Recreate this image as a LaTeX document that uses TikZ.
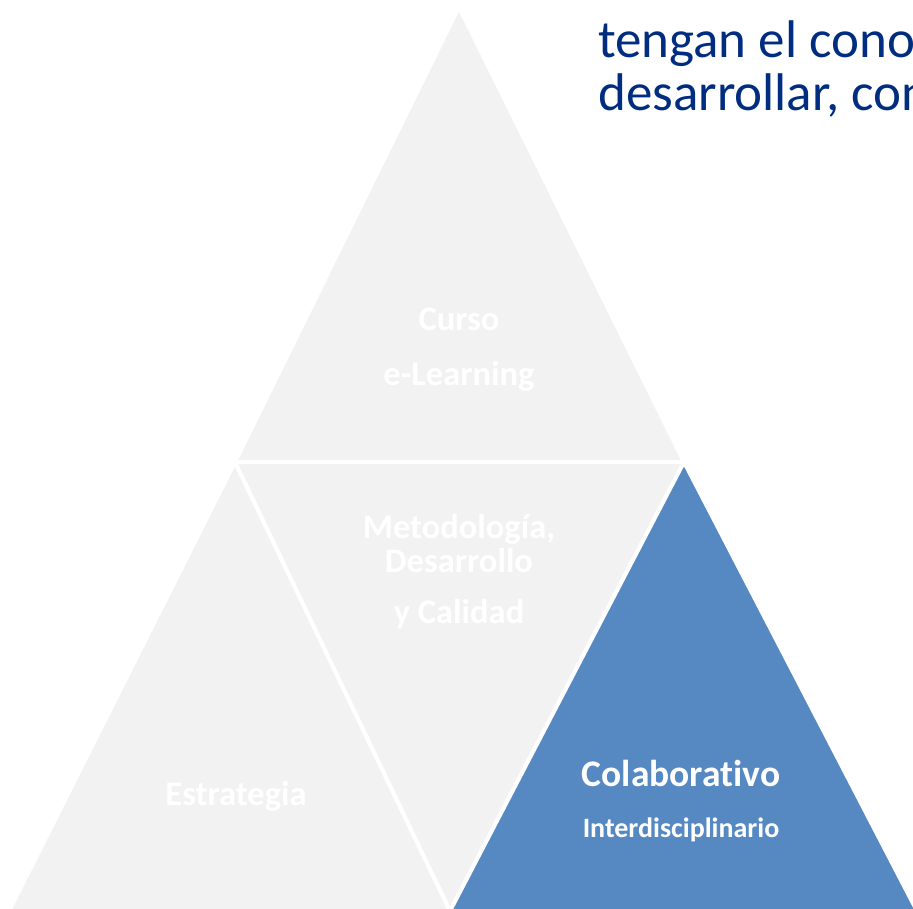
\documentclass[tikz,border=0pt]{standalone}
\usepackage{fontspec}
\setmainfont{Carlito}[Ligatures={NoCommon}]
\usepackage{tikz}

\definecolor{piecegray}{RGB}{242,242,242}
\definecolor{pieceblue}{RGB}{86,137,193}
\definecolor{titleblue}{RGB}{0,45,128}

\begin{document}
\begin{tikzpicture}[x=1pt, y=-1pt,
	piece/.style={draw=white, line width=4pt, line join=miter, fill=piecegray},
	hot piece/.style={piece, fill=pieceblue},
	tag/.style={anchor=base, inner sep=0pt, text=white, font=\fontsize{34.5}{38}\selectfont\bfseries},
	big tag/.style={tag, font=\fontsize{37.5}{42}\selectfont\bfseries},
	small tag/.style={tag, font=\fontsize{28}{32}\selectfont\bfseries},
	title line/.style={anchor=base west, inner sep=0pt, text=titleblue, font=\fontsize{53}{58}\selectfont}]
	
	\useasboundingbox (0,0) rectangle (913,908);
	
	% corners of the pyramid
	\coordinate (apex) at (459,7);
	\coordinate (lb) at (9,911);
	\coordinate (rb) at (917,911);
	\coordinate (lm) at (235,462);
	\coordinate (rm) at (684,462);
	\coordinate (bm) at (450,911);
	
	\path[piece] (apex) -- (rm) -- (lm) -- cycle;
	\path[piece] (lm) -- (bm) -- (lb) -- cycle;
	\path[piece] (lm) -- (rm) -- (bm) -- cycle;
	\path[hot piece] (rm) -- (rb) -- (bm) -- cycle;
	
	\node[tag] (curso) at (459,330) {Curso};
	\node[tag] (elearning) at (459,385) {e-Learning};
	\node[tag] (metodo) at (459,538) {Metodología,};
	\node[tag] (desarrollo) at (459,572) {Desarrollo};
	\node[tag] (calidad) at (459,623) {y Calidad};
	\node[tag] (estrategia) at (236,805) {Estrategia};
	\node[big tag] (colab) at (681,786) {Colaborativo};
	\node[small tag] (interdis) at (681,837) {Interdisciplinario};
	
	\node[title line] (line1) at (598,57) {tengan el cono};
	\node[title line] (line2) at (598,110) {desarrollar, con};
	
\end{tikzpicture}
\end{document}
